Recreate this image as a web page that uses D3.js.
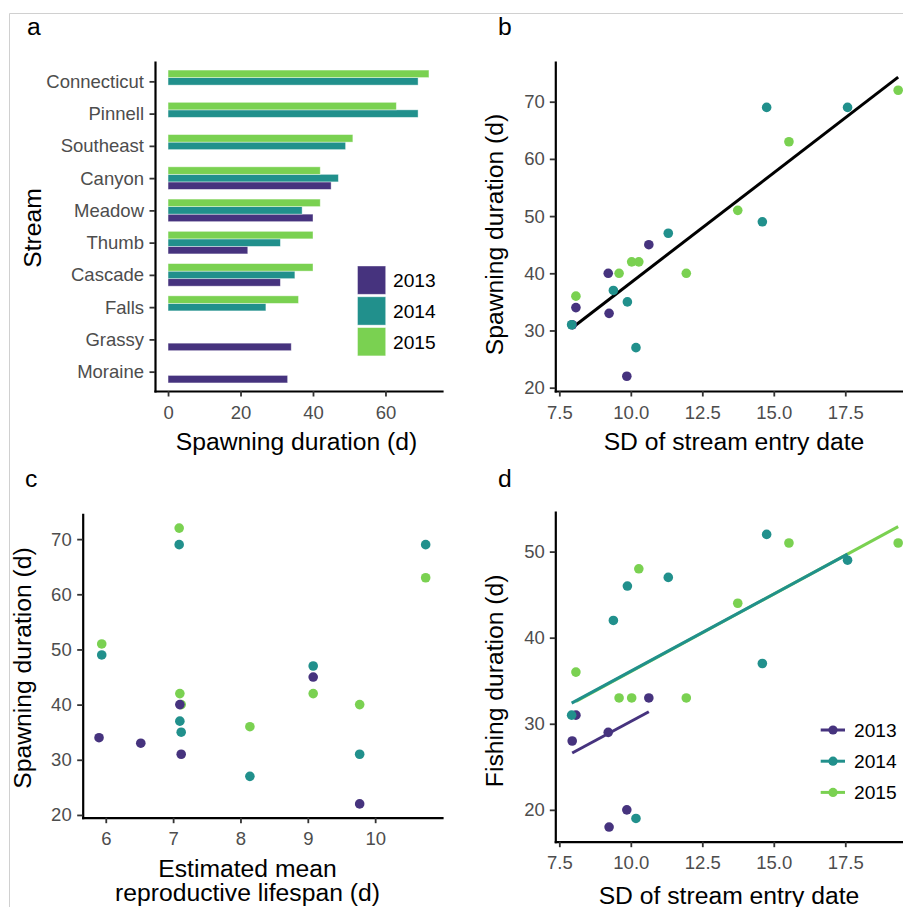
<!DOCTYPE html>
<html><head><meta charset="utf-8">
<script src="https://cdn.jsdelivr.net/npm/d3@7"></script>
<style>body{margin:0;background:#fff} svg text{font-family:"Liberation Sans",Arial,Helvetica,sans-serif}</style>
</head><body><svg id="chart" width="903" height="907"></svg>
<script>
// ---------------- data ----------------
const streams = ["Connecticut","Pinnell","Southeast","Canyon","Meadow","Thumb","Cascade","Falls","Grassy","Moraine"];
const years = ["2013","2014","2015"];
const yearColors = ["#46337E","#21908C","#7AD151"];
const lifespan = [7.09, 10.75, 5.94, 9.08, 7.10, 9.77, 7.12, 8.14, 5.90, 6.52];
const spawn2013 = [null, null, null, 45, 40, 22, 31, null, 34, 33];
const spawn2014 = [69, 69, 49, 47, 37, 31, 35, 27, null, null];
const spawn2015 = [72, 63, 51, 42, 42, 40, 40, 36, null, null];
const sdEntry2013 = [null, null, null, 10.63, 9.21, 9.86, 7.95, null, 8.08, 9.24];
const sdEntry2014 = [14.75, 17.58, 14.60, 11.31, 9.39, 7.93, 9.88, 10.18, null, null];
const sdEntry2015 = [19.35, 15.53, 13.74, 10.03, 10.28, 9.59, 11.94, 8.08, null, null];
const fishing2013 = [null, null, null, 33, 29, 20, 28, null, 31, 18];
const fishing2014 = [52, 49, 37, 47, 42, 31, 46, 19, null, null];
const fishing2015 = [51, 51, 44, 33, 48, 33, 33, 36, null, null];
// fitted lines (end points)
const fitAllX = [7.93, 19.35], fitAllY = [30.4, 74.3];
const fit2013X = [7.95, 10.63], fit2013Y = [26.6, 31.4];
const fit2014X = [7.93, 17.58], fit2014Y = [32.4, 49.7];
const fit2015X = [8.08, 19.35], fit2015Y = [32.6, 52.9];
// tick values
const ticksSpawnX = [0, 20, 40, 60];
const ticksSD = [7.5, 10, 12.5, 15, 17.5];
const ticksSpawn = [20, 30, 40, 50, 60, 70];
const ticksLife = [6, 7, 8, 9, 10];
const ticksFish = [20, 30, 40, 50];

// ---------------- build records ----------------
const spawnBy = [spawn2013, spawn2014, spawn2015];
const sdBy = [sdEntry2013, sdEntry2014, sdEntry2015];
const fishBy = [fishing2013, fishing2014, fishing2015];
const records = [];
streams.forEach((s, i) => {
  years.forEach((y, j) => {
    if (spawnBy[j][i] != null) records.push({stream: s, year: y, color: yearColors[j],
      spawn: spawnBy[j][i], sd: sdBy[j][i], fish: fishBy[j][i], life: lifespan[i]});
  });
});
const pointOrder = records.slice().sort((a, b) => d3.ascending(a.stream, b.stream) || d3.ascending(a.year, b.year));
const color = d3.scaleOrdinal().domain(years).range(yearColors);

const svg = d3.select("#chart");
const FONT_TICK = 18.5, FONT_TITLE = 24.7, FONT_LEG = 19.2;

// border lines
svg.append("line").attr("x1", 9.5).attr("x2", 903).attr("y1", 13.5).attr("y2", 13.5).attr("stroke", "#d0d0d0").attr("stroke-width", 1);
svg.append("line").attr("x1", 9.5).attr("x2", 9.5).attr("y1", 13.5).attr("y2", 907).attr("stroke", "#d0d0d0").attr("stroke-width", 1);

function styleAxis(g) {
  g.attr("font-size", FONT_TICK).attr("font-family", '"Liberation Sans",Arial,sans-serif');
  g.select(".domain").attr("stroke", "#000").attr("stroke-width", 2.2).attr("stroke-linecap", "square");
  g.selectAll(".tick line").attr("stroke", "#333").attr("stroke-width", 1.8);
  g.selectAll(".tick text").attr("fill", "#4d4d4d");
}
function panelLabel(t, x, y) {
  svg.append("text").attr("x", x).attr("y", y).attr("font-size", FONT_TITLE).attr("fill", "#000").text(t);
}
function xTitle(t, x, y) {
  svg.append("text").attr("x", x).attr("y", y).attr("text-anchor", "middle").attr("font-size", FONT_TITLE).attr("fill", "#000").text(t);
}
function yTitle(t, x, y) {
  svg.append("text").attr("transform", `translate(${x},${y}) rotate(-90)`).attr("text-anchor", "middle").attr("font-size", FONT_TITLE).attr("fill", "#000").text(t);
}

// ---------------- panel a ----------------
{
  const x = d3.scaleLinear().domain([-3.6, 75.6]).range([155, 442]);
  const y = d3.scalePoint().domain(streams).range([62, 391]).padding(0.6);
  const step = y.step();
  const yb = d3.scaleBand().domain(["2015", "2014", "2013"]).range([-0.35 * step, 0.35 * step]);
  const g = svg.append("g");
  g.selectAll("rect.bar").data(records).join("rect").attr("class", "bar")
    .attr("x", x(0)).attr("width", d => x(d.spawn) - x(0))
    .attr("y", d => y(d.stream) + yb(d.year)).attr("height", yb.bandwidth())
    .attr("fill", d => color(d.year)).attr("stroke", "#ffffff").attr("stroke-opacity", 0.5).attr("stroke-width", 0.8);
  svg.append("g").attr("transform", "translate(0,391)")
    .call(d3.axisBottom(x).tickValues(ticksSpawnX).tickFormat(d3.format("d")).tickSize(5.5).tickSizeOuter(0).tickPadding(9)).call(styleAxis);
  svg.append("g").attr("transform", "translate(155,0)")
    .call(d3.axisLeft(y).tickSize(5.5).tickSizeOuter(0).tickPadding(5.5)).call(styleAxis);
  // legend
  const leg = svg.append("g");
  years.forEach((yr, i) => {
    leg.append("rect").attr("x", 357.5).attr("y", 266 + i * 30.8).attr("width", 28.2).attr("height", 28.3)
      .attr("fill", color(yr)).attr("stroke", "#fff").attr("stroke-opacity", 0.5).attr("stroke-width", 0.8);
    leg.append("text").attr("x", 393).attr("y", 280.3 + i * 30.8).attr("dy", "0.36em").attr("font-size", FONT_LEG).attr("fill", "#000").text(yr);
  });
  panelLabel("a", 27, 35);
  xTitle("Spawning duration (d)", 296.5, 450);
  yTitle("Stream", 41, 228);
}

// ---------------- panel b ----------------
{
  const x = d3.scaleLinear().domain([7.359, 19.921]).range([555.3, 914.5]);
  const y = d3.scaleLinear().domain([19.42, 76.94]).range([391, 62]);
  svg.append("line").attr("x1", x(fitAllX[0])).attr("x2", x(fitAllX[1])).attr("y1", y(fitAllY[0])).attr("y2", y(fitAllY[1]))
    .attr("stroke", "#000").attr("stroke-width", 3);
  svg.append("g").selectAll("circle").data(pointOrder).join("circle")
    .attr("cx", d => x(d.sd)).attr("cy", d => y(d.spawn)).attr("r", 4.8).attr("fill", d => color(d.year));
  svg.append("g").attr("transform", "translate(0,391)")
    .call(d3.axisBottom(x).tickValues(ticksSD).tickFormat(d3.format(".1f")).tickSize(5.5).tickSizeOuter(0).tickPadding(9)).call(styleAxis);
  svg.append("g").attr("transform", "translate(555.3,0)")
    .call(d3.axisLeft(y).tickValues(ticksSpawn).tickFormat(d3.format("d")).tickSize(5.5).tickSizeOuter(0).tickPadding(5)).call(styleAxis);
  panelLabel("b", 498, 35);
  xTitle("SD of stream entry date", 734, 450);
  yTitle("Spawning duration (d)", 503, 234.5);
}

// ---------------- panel c ----------------
{
  const x = d3.scaleLinear().domain([5.6575, 10.9925]).range([82.7, 442]);
  const y = d3.scaleLinear().domain([19.5, 74.5]).range([817.7, 514.3]);
  svg.append("g").selectAll("circle").data(pointOrder).join("circle")
    .attr("cx", d => x(d.life)).attr("cy", d => y(d.spawn)).attr("r", 4.8).attr("fill", d => color(d.year));
  svg.append("g").attr("transform", "translate(0,817.7)")
    .call(d3.axisBottom(x).tickValues(ticksLife).tickFormat(d3.format("d")).tickSize(5.5).tickSizeOuter(0).tickPadding(9)).call(styleAxis);
  svg.append("g").attr("transform", "translate(82.7,0)")
    .call(d3.axisLeft(y).tickValues(ticksSpawn).tickFormat(d3.format("d")).tickSize(5.5).tickSizeOuter(0).tickPadding(5.5)).call(styleAxis);
  panelLabel("c", 25, 487);
  const t = svg.append("text").attr("text-anchor", "middle").attr("font-size", FONT_TITLE).attr("fill", "#000");
  t.append("tspan").attr("x", 247.5).attr("y", 877).text("Estimated mean");
  t.append("tspan").attr("x", 247.5).attr("y", 901).text("reproductive lifespan (d)");
  yTitle("Spawning duration (d)", 31, 668);
}

// ---------------- panel d ----------------
{
  const x = d3.scaleLinear().domain([7.359, 19.921]).range([555.3, 914.5]);
  const y = d3.scaleLinear().domain([16.3, 54.6]).range([841.7, 512]);
  const fits = [
    {year: "2015", xs: fit2015X, ys: fit2015Y},
    {year: "2014", xs: fit2014X, ys: fit2014Y},
    {year: "2013", xs: fit2013X, ys: fit2013Y}
  ];
  svg.append("g").selectAll("line").data(fits).join("line")
    .attr("x1", d => x(d.xs[0])).attr("x2", d => x(d.xs[1])).attr("y1", d => y(d.ys[0])).attr("y2", d => y(d.ys[1]))
    .attr("stroke", d => color(d.year)).attr("stroke-width", 3);
  svg.append("g").selectAll("circle").data(pointOrder).join("circle")
    .attr("cx", d => x(d.sd)).attr("cy", d => y(d.fish)).attr("r", 4.8).attr("fill", d => color(d.year));
  svg.append("g").attr("transform", "translate(0,841.7)")
    .call(d3.axisBottom(x).tickValues(ticksSD).tickFormat(d3.format(".1f")).tickSize(5.5).tickSizeOuter(0).tickPadding(9)).call(styleAxis);
  svg.append("g").attr("transform", "translate(555.3,0)")
    .call(d3.axisLeft(y).tickValues(ticksFish).tickFormat(d3.format("d")).tickSize(5.5).tickSizeOuter(0).tickPadding(5)).call(styleAxis);
  // legend
  years.forEach((yr, i) => {
    const cy = 730 + i * 31.2;
    svg.append("line").attr("x1", 820.7).attr("x2", 845).attr("y1", cy).attr("y2", cy).attr("stroke", color(yr)).attr("stroke-width", 3);
    svg.append("circle").attr("cx", 833).attr("cy", cy).attr("r", 4.6).attr("fill", color(yr));
    svg.append("text").attr("x", 854).attr("y", cy).attr("dy", "0.36em").attr("font-size", FONT_LEG).attr("fill", "#000").text(yr);
  });
  panelLabel("d", 498, 487);
  xTitle("SD of stream entry date", 729, 904);
  yTitle("Fishing duration (d)", 503, 680.8);
}
</script></body></html>
